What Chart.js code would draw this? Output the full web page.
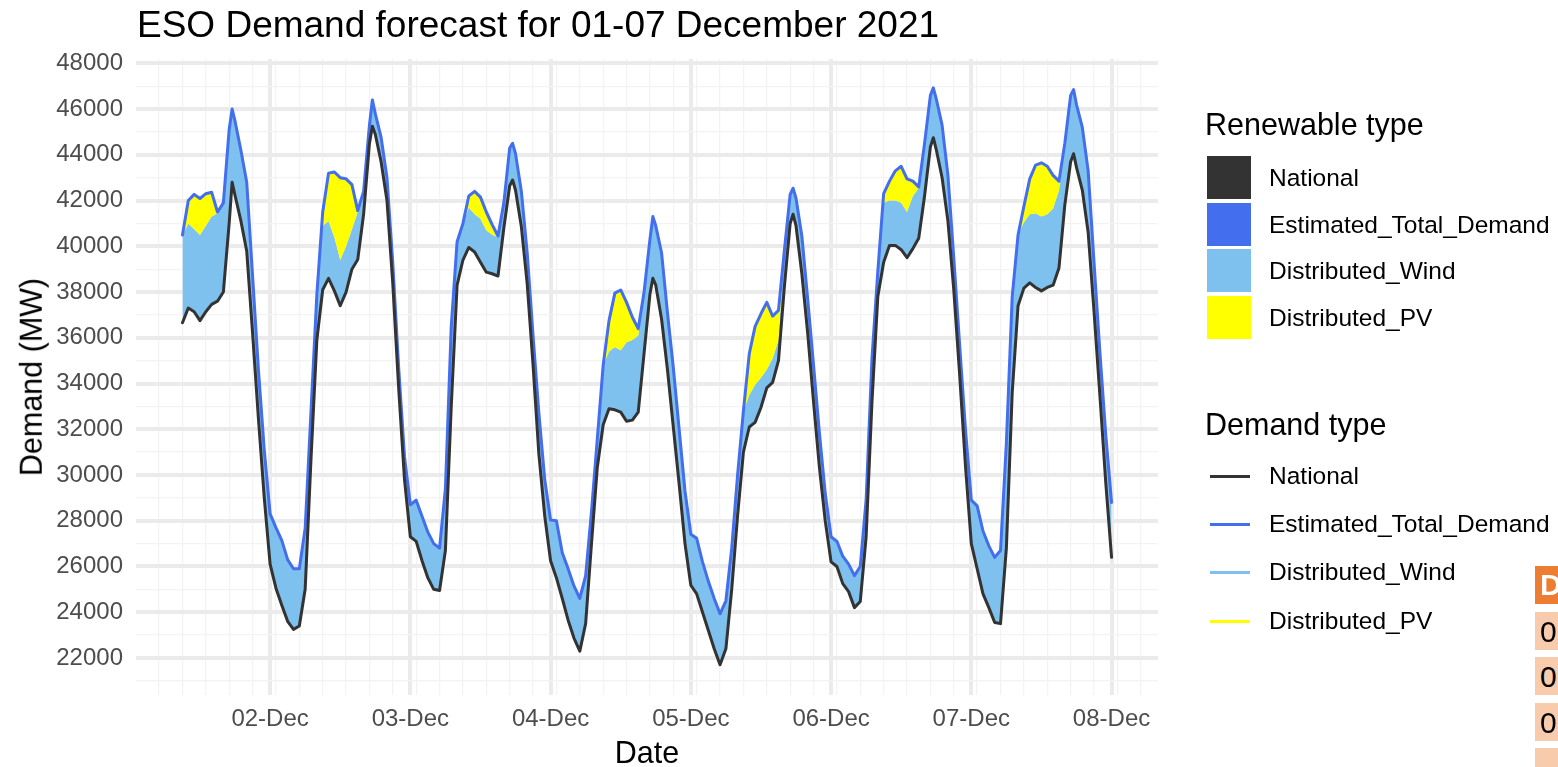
<!DOCTYPE html>
<html>
<head>
<meta charset="utf-8">
<script src="https://cdn.jsdelivr.net/npm/chart.js@4.4.0/dist/chart.umd.min.js"></script>
<style>
  body { margin: 0; background: #fff; font-family: "Liberation Sans", Arial, sans-serif; }
  #wrap { position: relative; width: 1558px; height: 767px; overflow: hidden; }
  #chart { position: absolute; left: 0; top: 0; }
  .t { position: absolute; white-space: nowrap; line-height: 1; color: #000; }
  .key { position: absolute; left: 1207px; width: 44px; height: 43px; }
  .lkey { position: absolute; left: 1210px; width: 40px; height: 3px; }
  .lab { position: absolute; left: 1269px; font-size: 24.5px; line-height: 1; white-space: nowrap; }
  .cell { position: absolute; left: 1535px; width: 40px; overflow: hidden; font-size: 30px; line-height: 1; padding-left: 5px; box-sizing: border-box; }
</style>
</head>
<body>
<div id="wrap">
  <canvas id="chart" width="1558" height="767"></canvas>

  <div class="t" style="left:137px; top:6px; font-size:37px;">ESO Demand forecast for 01-07 December 2021</div>
  <div class="t" style="left:31px; top:377px; font-size:30.5px; transform:translate(-50%,-50%) rotate(-90deg);">Demand (MW)</div>
  <div class="t" style="left:647px; top:737px; font-size:30.5px; transform:translateX(-50%);">Date</div>

  <div class="t" style="left:1205px; top:109px; font-size:30.5px;">Renewable type</div>
  <div class="key" style="top:156px; background:#333333;"></div>
  <div class="key" style="top:203px; background:#436EEE;"></div>
  <div class="key" style="top:249px; background:#7EC0EE;"></div>
  <div class="key" style="top:296px; background:#FFFF00;"></div>
  <div class="lab" style="top:166px;">National</div>
  <div class="lab" style="top:213px;">Estimated_Total_Demand</div>
  <div class="lab" style="top:259px;">Distributed_Wind</div>
  <div class="lab" style="top:306px;">Distributed_PV</div>

  <div class="t" style="left:1205px; top:409px; font-size:30.5px;">Demand type</div>
  <div class="lkey" style="top:475px; background:#333333;"></div>
  <div class="lkey" style="top:523px; background:#436EEE;"></div>
  <div class="lkey" style="top:571px; background:#7EC0EE;"></div>
  <div class="lkey" style="top:620px; background:#FFFF00;"></div>
  <div class="lab" style="top:464px;">National</div>
  <div class="lab" style="top:512px;">Estimated_Total_Demand</div>
  <div class="lab" style="top:560px;">Distributed_Wind</div>
  <div class="lab" style="top:609px;">Distributed_PV</div>

  <div class="cell" style="top:566px; height:38px; background:#ED7D31; color:#fff; font-weight:bold; padding-top:4px;">D</div>
  <div class="cell" style="top:612px; height:38px; background:#F8CBAD; padding-top:5px;">0</div>
  <div class="cell" style="top:657px; height:38px; background:#F8CBAD; padding-top:5px;">0</div>
  <div class="cell" style="top:703px; height:38px; background:#F8CBAD; padding-top:5px;">0</div>
  <div class="cell" style="top:748px; height:30px; background:#F8CBAD;"></div>
</div>

<script>
// half-hour slot at 17:30 kept for the evening peak
const slots = [0,1,2,3,4,5,6,7,8,9,10,11,12,13,14,15,16,17,17.5,18,19,20,21,22,23];
const dayLabels = ['02-Dec','03-Dec','04-Dec','05-Dec','06-Dec','07-Dec','08-Dec'];
const yTicks = [22000,24000,26000,28000,30000,32000,34000,36000,38000,40000,42000,44000,46000,48000];

// hours since 01-Dec 00:00, data runs 01-Dec 09:00 -> 08-Dec 00:00
const hours = [];
for (let d = 0; d < 7; d++) {
  slots.forEach(s => { if (d > 0 || s >= 9) hours.push(d * 24 + s); });
}
hours.push(168);

// National demand (MW)
const national = [
  // 01-Dec from 09:00
  36660,37300,37140,36750,37140,37460,37600,38000,41020,42800,42220,41110,39780,36200,32470,29000,
  // 02-Dec
  26100,25050,24300,23600,23250,23400,25000,30700,35900,38100,38600,38050,37400,38000,39000,39420,41400,44500,45250,44900,43690,42000,38350,33800,29800,
  // 03-Dec
  27300,27100,26250,25500,25000,24950,26700,33000,38300,39400,39950,39750,39300,38870,38800,38700,40800,42650,42900,42450,40850,38350,34800,30900,28200,
  // 04-Dec
  26250,25500,24600,23650,22870,22300,23500,27000,30340,32200,32900,32850,32750,32350,32400,32750,35330,37900,38600,38300,36800,34610,32100,29600,27000,
  // 05-Dec
  25180,24800,24000,23200,22400,21700,22400,25000,28210,31000,32100,32300,32950,33810,34050,35000,38200,41000,41400,40900,38800,36200,33200,30350,28000,
  // 06-Dec
  26200,26000,25250,24900,24200,24470,27300,33200,37800,39300,40040,40040,39850,39500,39900,40350,42200,44350,44750,44230,43000,41100,38100,34400,30400,
  // 07-Dec
  27000,25900,24800,24200,23550,23500,26800,33600,37400,38170,38400,38200,38050,38200,38300,39050,41800,43700,44050,43450,42450,40600,37150,33500,29700,
  // 08-Dec 00:00
  26400
];

// Distributed wind (MW)
const wind = [
  3830,3700,3620,3740,3760,3840,3850,3900,4100,3200,3250,3090,3020,2500,2140,2100,
  2200,2650,2840,2700,2650,2500,2670,2100,2000,2800,2500,2350,2000,2000,1750,2080,1000,800,1150,900,1070,1000,890,900,1000,
  1400,1800,1950,2000,2000,1850,2700,3500,1900,1600,1750,1650,1900,1830,1700,1700,1100,1650,1600,1600,1550,1350,1300,1800,1600,
  1780,2500,2000,2250,2280,2300,2100,1400,1260,2600,2500,2750,2700,3450,3500,3350,2670,2400,2700,2600,2900,2490,2600,2400,2300,
  2230,2430,2200,2150,2200,2230,2100,1800,1780,1800,1400,1650,1300,800,1050,900,1600,1270,1140,1200,1650,1500,1600,1500,1200,
  1100,1100,1200,1200,1400,1530,1620,1900,1100,2600,1960,1960,2050,2000,2300,2200,2300,2250,2180,2220,2300,2000,1400,1300,1600,
  1900,2750,2750,2700,2850,3200,4600,4200,3100,2880,3000,3250,3250,3200,3350,3400,2700,2900,2800,2750,2750,2700,2150,1900,2100,
  2400
];

// Distributed PV (MW)
const pv = [
  0,1000,1510,1600,1400,1060,50,0,0,0,0,0,0,0,0,0,
  0,0,0,0,0,0,0,0,0,600,2100,2850,3600,2950,1950,60,0,0,0,0,0,0,0,0,0,
  0,0,0,0,0,0,0,0,0,0,500,1000,950,800,450,50,0,0,0,0,0,0,0,0,0,
  0,0,0,0,0,0,0,0,0,0,1350,2350,2640,1750,1000,300,0,0,0,0,0,0,0,0,0,
  0,0,0,0,0,0,0,0,0,0,1800,2550,2800,2940,1850,1300,0,0,0,0,0,0,0,0,0,
  0,0,0,0,0,0,0,0,0,400,850,1300,1600,1450,650,50,0,0,0,0,0,0,0,0,0,
  0,0,0,0,0,0,0,0,0,700,1550,2100,2350,2100,1450,400,0,0,0,0,0,0,0,0,0,
  0
];

const natWind = national.map((v, i) => v + wind[i]);
const total = natWind.map((v, i) => v + pv[i]);
const pts = arr => arr.map((v, i) => ({ x: hours[i], y: v }));

// x gridlines: days are major, every 4 hours from 01:00 minor
const xTicks = [];
for (let h = 5; h <= 173; h += 4) xTicks.push(h);
for (let d = 1; d <= 7; d++) xTicks.push(d * 24);
const yGrid = [];
for (let v = 21000; v <= 48000; v += 1000) yGrid.push(v);

const tickFont = { family: 'Liberation Sans', size: 24 };

new Chart(document.getElementById('chart'), {
  type: 'line',
  data: {
    datasets: [
      { label: 'National', data: pts(national), borderColor: '#333333', borderWidth: 3, fill: false, order: 0 },
      { label: 'Distributed_Wind', data: pts(natWind), borderColor: 'rgba(0,0,0,0)', borderWidth: 0, backgroundColor: '#7EC0EE', fill: 0, order: 2 },
      { label: 'Estimated_Total_Demand', data: pts(total), borderColor: '#436EEE', borderWidth: 3, backgroundColor: '#FFFF00', fill: 1, order: 1 }
    ]
  },
  options: {
    responsive: false,
    animation: false,
    devicePixelRatio: 1,
    layout: { padding: { top: 59, right: 400, left: 0, bottom: 0 } },
    elements: {
      point: { radius: 0 },
      line: { tension: 0, borderJoinStyle: 'round', borderCapStyle: 'round' }
    },
    plugins: { legend: { display: false }, tooltip: { enabled: false } },
    scales: {
      x: {
        type: 'linear',
        min: 1.05,
        max: 175.95,
        afterFit: s => { s.height = 72; },
        afterBuildTicks: s => { s.ticks = xTicks.map(v => ({ value: v })); },
        border: { display: false },
        grid: {
          drawTicks: false,
          color: c => (c.tick && c.tick.value % 24 === 0) ? '#EBEBEB' : '#F3F3F3',
          lineWidth: c => (c.tick && c.tick.value % 24 === 0) ? 4 : 1.3
        },
        ticks: {
          autoSkip: false, maxRotation: 0, padding: 10, color: '#4D4D4D', font: tickFont,
          callback: v => v % 24 === 0 ? dayLabels[v / 24 - 1] : ''
        }
      },
      y: {
        min: 20380,
        max: 48190,
        afterFit: s => { s.width = 136; },
        afterBuildTicks: s => { s.ticks = yGrid.map(v => ({ value: v })); },
        border: { display: false },
        grid: {
          drawTicks: false,
          color: c => (c.tick && c.tick.value % 2000 === 0) ? '#EBEBEB' : '#F3F3F3',
          lineWidth: c => (c.tick && c.tick.value % 2000 === 0) ? 4 : 1.3
        },
        ticks: {
          autoSkip: false, padding: 13, color: '#4D4D4D', font: tickFont,
          callback: v => yTicks.includes(v) ? String(v) : ''
        }
      }
    }
  }
});
</script>
</body>
</html>
